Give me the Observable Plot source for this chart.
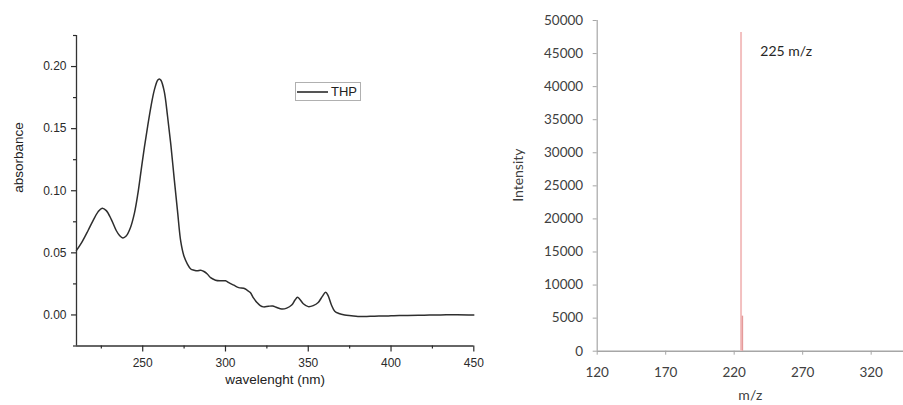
<!DOCTYPE html>
<html>
<head>
<meta charset="utf-8">
<script src="https://cdn.jsdelivr.net/npm/d3@7"></script>
<script src="https://cdn.jsdelivr.net/npm/@observablehq/plot@0.6"></script>
<style>
  body { margin: 0; background: #fff; }
  #wrap { position: relative; width: 903px; height: 405px; overflow: hidden; background: #fff; }
  #left, #right { position: absolute; top: 0; }
  #left { left: 0; }
  #right { left: 500px; }
  #legend { position: absolute; left: 295px; top: 82px; width: 64px; height: 17px; border: 1px solid #b0b0b0;
            font-family: "Liberation Sans", Arial, sans-serif; font-size: 13px; color: #222; }
  #legend .ln { position: absolute; left: 1px; top: 8px; width: 31px; height: 0; border-top: 2px solid #555; }
  #legend .tx { position: absolute; left: 35px; top: 1px; line-height: 15px; }
</style>
</head>
<body>
<div id="wrap">
  <div id="left"></div>
  <div id="right"></div>
  <div id="legend"><div class="ln"></div><div class="tx">THP</div></div>
</div>
<script>
// ---- UV-Vis spectrum (left) ----
const wavelength = [210,213,217,220,223,225.5,228,231,234,236,238,240,242.5,245,247,249,251,253,255,257,259,260,261,263,265,267,269,271,273,275,277,279,281,283,285,287,289,291,294,297,300,302,305,308,311,313,315,317,319,321,323,326,328.5,331,334,337,340,342,343.5,345,347,350,353,356,358.5,360.5,362,364,366,368.5,372,376,380,384,390,395,400,405,410,420,430,440,450];
const absorbance = [0.052,0.058,0.068,0.076,0.083,0.086,0.084,0.077,0.068,0.064,0.062,0.0635,0.070,0.082,0.097,0.116,0.135,0.152,0.168,0.181,0.189,0.190,0.189,0.180,0.160,0.137,0.110,0.084,0.059,0.047,0.041,0.037,0.036,0.0355,0.036,0.035,0.033,0.030,0.028,0.0275,0.0275,0.026,0.024,0.022,0.0215,0.020,0.018,0.0135,0.010,0.0075,0.0065,0.007,0.0072,0.006,0.0048,0.0055,0.008,0.012,0.0142,0.0125,0.009,0.0067,0.0075,0.010,0.015,0.0183,0.0155,0.008,0.003,0.0012,0.0,-0.0006,-0.0012,-0.0013,-0.001,-0.0009,-0.0007,-0.0005,-0.0004,-0.0002,0.0,0.0002,0.0];
const uvXMajor = [250,300,350,400,450];
const uvXMinor = [225,275,325,375,425];
const uvYMajor = [0,0.05,0.10,0.15,0.20];
const uvYMinor = [-0.025,0.025,0.075,0.125,0.175,0.225];
const uvXLabel = "wavelenght (nm)";
const uvYLabel = "absorbance";

// ---- Mass spectrum (right) ----
const mz = [225, 226];
const intensity = [48200, 5300];
const peakColors = ["#f3c0c0", "#e59a9a"];
const msXTicks = [120,170,220,270,320];
const msYTicks = [0,5000,10000,15000,20000,25000,30000,35000,40000,45000,50000];
const msAnnot = [{mz: 258, intensity: 45300, text: "225 m/z"}];
const msXLabel = "m/z";
const msYLabel = "Intensity";

const uv = wavelength.map((w, i) => ({w, a: absorbance[i]}));
const peaks = mz.map((m, i) => ({m, v: intensity[i], c: peakColors[i]}));

const left = Plot.plot({
  width: 500, height: 405,
  marginLeft: 76, marginRight: 26.7, marginTop: 35, marginBottom: 59.5,
  style: {fontFamily: "'Liberation Sans', Arial, sans-serif", fontSize: "12px", color: "#2a2a2a", background: "#fff"},
  x: {domain: [210, 450]},
  y: {domain: [-0.025, 0.225]},
  marks: [
    Plot.ruleX([210], {stroke: "#333", strokeWidth: 1.3}),
    Plot.ruleY([-0.025], {stroke: "#333", strokeWidth: 1.3}),
    Plot.axisX({ticks: uvXMajor, tickSize: 6, tickPadding: 6, label: null, fontSize: 12, strokeWidth: 1.2}),
    Plot.axisX({ticks: uvXMinor, tickSize: 3, tickFormat: () => "", label: null, strokeWidth: 1.2}),
    Plot.axisY({ticks: uvYMajor, tickSize: 5, tickPadding: 5, label: null, fontSize: 12, tickFormat: d3.format(".2f"), strokeWidth: 1.2}),
    Plot.axisY({ticks: uvYMinor, tickSize: 3, tickFormat: () => "", label: null, strokeWidth: 1.2}),
    Plot.line(uv, {x: "w", y: "a", stroke: "#2e2e2e", strokeWidth: 1.5, curve: "catmull-rom"}),
    Plot.text([uvXLabel], {text: d => d, frameAnchor: "bottom", dy: 38, fontSize: 13.5, fill: "#222"}),
    Plot.text([uvYLabel], {text: d => d, frameAnchor: "left", dx: -58, dy: 2, rotate: -90, fontSize: 13.5, fill: "#222"})
  ]
});
document.getElementById("left").appendChild(left);

const right = Plot.plot({
  width: 403, height: 405,
  marginLeft: 96.7, marginRight: 0, marginTop: 20, marginBottom: 54.3,
  style: {fontFamily: "Lato, 'Open Sans', sans-serif", fontSize: "13px", color: "#404040", background: "transparent"},
  x: {domain: [120, 343.6]},
  y: {domain: [0, 50000]},
  marks: [
    Plot.ruleX([120], {y1: 0, y2: 50000, stroke: "#a6a6a6", strokeWidth: 1.2}),
    Plot.ruleY([0], {stroke: "#a6a6a6", strokeWidth: 1.5}),
    Plot.axisX({ticks: msXTicks, tickSize: 4, tickPadding: 12, label: null, fontSize: 13.5, stroke: "#a6a6a6", fill: "#404040"}),
    Plot.axisY({ticks: msYTicks, tickSize: 4, tickPadding: 10, label: null, fontSize: 13.5, tickFormat: d => String(d), stroke: "#a6a6a6", fill: "#404040"}),
    Plot.ruleX(peaks, {x: "m", y1: 0, y2: "v", stroke: "c", strokeWidth: (d, i) => i === 0 ? 2 : 1.5}),
    Plot.text(msAnnot, {x: "mz", y: "intensity", text: "text", fontSize: 14, fill: "#262626"}),
    Plot.text([msXLabel], {text: d => d, frameAnchor: "bottom", dy: 49, fontSize: 14, fill: "#404040"}),
    Plot.text([msYLabel], {text: d => d, frameAnchor: "left", dx: -79, dy: 16, rotate: -90, fontSize: 14, fill: "#404040"})
  ]
});
document.getElementById("right").appendChild(right);
</script>
</body>
</html>
